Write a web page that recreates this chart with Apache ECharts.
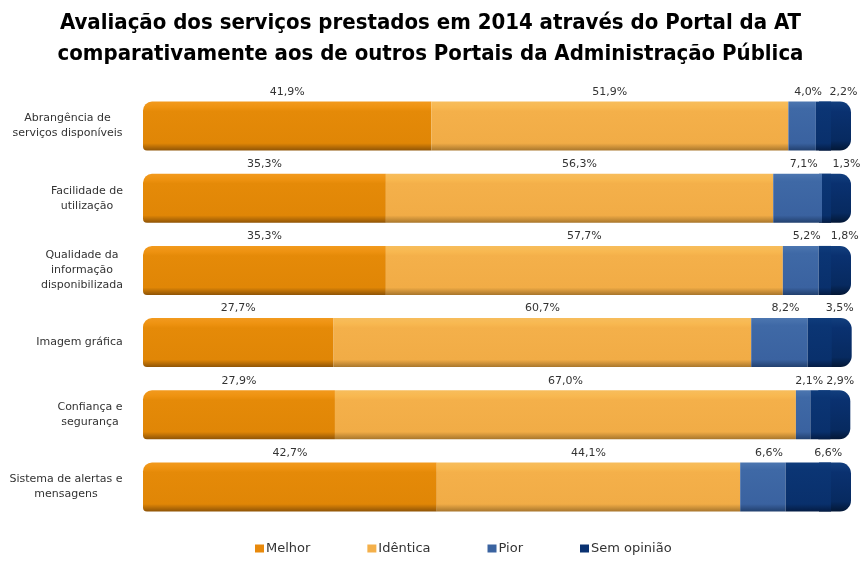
<!DOCTYPE html>
<html>
<head>
<meta charset="utf-8">
<script src="https://cdn.jsdelivr.net/npm/echarts@6/dist/echarts.min.js"></script>
<style>
  html, body { margin: 0; padding: 0; background: #ffffff; }
  #chart { width: 861px; height: 562px; }
</style>
</head>
<body>
<div id="chart"></div>
<script>
// Avaliação dos serviços do Portal da AT (2014), percentagens por critério
const categories = [
  'Abrangência de\nserviços disponíveis',
  'Facilidade de\nutilização',
  'Qualidade da\ninformação\ndisponibilizada',
  'Imagem gráfica',
  'Confiança e\nsegurança',
  'Sistema de alertas e\nmensagens'
];
const seriesNames = ['Melhor', 'Idêntica', 'Pior', 'Sem opinião'];
const melhor     = [41.9, 35.3, 35.3, 27.7, 27.9, 42.7];
const identica   = [51.9, 56.3, 57.7, 60.7, 67.0, 44.1];
const pior       = [4.0, 7.1, 5.2, 8.2, 2.1, 6.6];
const semOpiniao = [2.2, 1.3, 1.8, 3.5, 2.9, 6.6];

const totals = categories.map((_, i) => melhor[i] + identica[i] + pior[i] + semOpiniao[i]);

function vgrad(stops) {
  return new echarts.graphic.LinearGradient(0, 0, 0, 1,
    stops.map(s => ({ offset: s[0], color: s[1] })));
}

const fills = [
  vgrad([[0, '#F29A1E'], [0.12, '#EE9210'], [0.2, '#E58A08'], [0.85, '#E08606'], [1, '#8F5406']]),
  vgrad([[0, '#F7BD5C'], [0.12, '#F8B850'], [0.2, '#F4B04A'], [0.85, '#F1AC46'], [1, '#A8762C']]),
  vgrad([[0, '#4C76B0'], [0.15, '#3F69A6'], [0.85, '#3A62A0'], [1, '#22406E']]),
  vgrad([[0, '#0F3C7C'], [0.15, '#0B3574'], [0.85, '#09306C'], [1, '#041C44']])
];
const legendIcons = ['#E8890B', '#F4B04A', '#3A63A0', '#0A3272'];

const fmt = v => v.toFixed(1).replace('.', ',') + '%';

const labelOffsets = [[0, 0], [0, 0], [6, 0], [20, 0]];
const radii = [[9, 0, 0, 4], 0, 0, 0];

// category labels: block right-aligned to the bars, lines centred inside the block
const measureCtx = document.createElement('canvas').getContext('2d');
measureCtx.font = '11px "DejaVu Sans"';
const labelRich = {};
categories.forEach((c, i) => {
  const w = Math.max(...c.split('\n').map(l => measureCtx.measureText(l).width));
  labelRich['c' + i] = {
    width: Math.ceil(w),
    align: 'center',
    lineHeight: 15,
    fontFamily: 'DejaVu Sans',
    fontSize: 11,
    color: '#333333'
  };
});

const barSeries = [melhor, identica, pior, semOpiniao].map((vals, k) => ({
  name: seriesNames[k],
  type: 'bar',
  stack: 'total',
  barWidth: 49,
  clip: false,
  data: vals,
  itemStyle: { color: fills[k], borderRadius: radii[k] },
  label: {
    show: true,
    position: 'top',
    distance: 4,
    offset: labelOffsets[k],
    formatter: p => fmt(p.value),
    color: '#333333',
    fontFamily: 'DejaVu Sans',
    fontSize: 11
  },
  z: 3
}));

// rounded end face giving each bar its depth on the right
const capSeries = {
  type: 'custom',
  name: 'cap',
  silent: true,
  z: 2,
  encode: { x: 0, y: 1 },
  data: totals.map((t, i) => [t, i]),
  renderItem: (params, api) => {
    const p = api.coord([api.value(0), api.value(1)]);
    const h = 49;
    return {
      type: 'rect',
      shape: { x: p[0] - 12, y: p[1] - h / 2, width: 32, height: h, r: [0, 11, 11, 0] },
      style: { fill: vgrad([[0, '#123F7E'], [0.2, '#0A3170'], [0.8, '#072A60'], [1, '#031735']]) }
    };
  }
};

const chart = echarts.init(document.getElementById('chart'));
chart.setOption({
  backgroundColor: '#ffffff',
  animation: false,
  title: {
    text: 'Avaliação dos serviços prestados em 2014 através do Portal da AT\ncomparativamente aos de outros Portais da Administração Pública',
    left: 'center',
    top: 3,
    textStyle: {
      fontFamily: '"Liberation Sans Narrow", "DejaVu Sans Condensed", sans-serif',
      fontWeight: 'bold',
      fontSize: 22,
      lineHeight: 31,
      color: '#000000'
    }
  },
  legend: {
    bottom: 2,
    left: 250,
    itemWidth: 9,
    itemHeight: 8,
    itemGap: 57,
    icon: 'rect',
    data: seriesNames.map((n, k) => ({ name: n, itemStyle: { color: legendIcons[k] } })),
    textStyle: { fontFamily: 'DejaVu Sans', fontSize: 13, color: '#333333', padding: [0, 0, 0, -3] }
  },
  grid: { left: 143, right: 30, top: 90, bottom: 39, containLabel: false, outerBoundsMode: 'none' },
  xAxis: {
    type: 'value',
    min: 0,
    max: 100,
    show: false
  },
  yAxis: {
    type: 'category',
    inverse: true,
    data: categories,
    axisLine: { show: false },
    axisTick: { show: false },
    splitLine: { show: false },
    axisLabel: {
      align: 'right',
      margin: 20,
      lineHeight: 15,
      fontFamily: 'DejaVu Sans',
      fontSize: 11,
      color: '#333333',
      rich: labelRich,
      formatter: (value, index) => value.split('\n').map(l => '{c' + index + '|' + l + '}').join('\n')
    }
  },
  series: [capSeries].concat(barSeries)
});
</script>
</body>
</html>
